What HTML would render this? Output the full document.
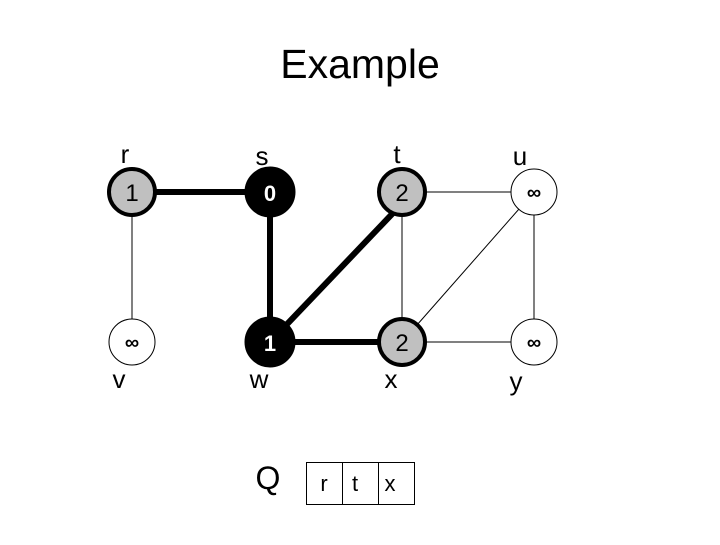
<!DOCTYPE html>
<html><head><meta charset="utf-8"><style>body{margin:0;background:#fff}</style></head><body>
<svg width="720" height="540" xmlns="http://www.w3.org/2000/svg" font-family="Liberation Sans, sans-serif">
<rect width="720" height="540" fill="#fff"/>
<text x="360" y="78" font-size="41" text-anchor="middle">Example</text>
<g stroke="#000">
<line x1="132" y1="192" x2="132" y2="342" stroke-width="1"/>
<line x1="402" y1="192" x2="402" y2="342" stroke-width="1"/>
<line x1="402" y1="192" x2="517" y2="192" stroke-width="1"/>
<line x1="402" y1="342" x2="534" y2="342" stroke-width="1"/>
<line x1="534" y1="192" x2="534" y2="342" stroke-width="1"/>
<line x1="402" y1="342" x2="534" y2="192" stroke-width="1"/>
<line x1="132" y1="192" x2="270" y2="192" stroke-width="6"/>
<line x1="270" y1="192" x2="270" y2="342" stroke-width="6"/>
<line x1="270" y1="342" x2="402" y2="342" stroke-width="6"/>
<line x1="270" y1="342" x2="394" y2="212" stroke-width="6"/>
</g>
<g stroke="#000">
<circle cx="132" cy="192" r="23" fill="#c0c0c0" stroke-width="4"/>
<circle cx="270" cy="192" r="25" fill="#000"/>
<circle cx="402" cy="192" r="23" fill="#c0c0c0" stroke-width="4"/>
<circle cx="534" cy="192" r="23" fill="#fff" stroke-width="1"/>
<circle cx="132" cy="342" r="23" fill="#fff" stroke-width="1"/>
<circle cx="270" cy="342" r="25" fill="#000"/>
<circle cx="402" cy="342" r="23" fill="#c0c0c0" stroke-width="4"/>
<circle cx="534" cy="342" r="23" fill="#fff" stroke-width="1"/>
</g>
<g font-size="24" text-anchor="middle">
<text x="132" y="201">1</text>
<text x="270" y="201" fill="#fff" font-weight="bold" font-size="22">0</text>
<text x="402" y="201">2</text>
<text x="534" y="199" font-size="20" font-weight="bold">∞</text>
<text x="132" y="349" font-size="20" font-weight="bold">∞</text>
<text x="270" y="351" fill="#fff" font-weight="bold" font-size="22">1</text>
<text x="402" y="351">2</text>
<text x="534" y="349" font-size="20" font-weight="bold">∞</text>
</g>
<g font-size="26" text-anchor="middle">
<text x="125" y="163">r</text>
<text x="262" y="165">s</text>
<text x="397" y="163">t</text>
<text x="520" y="165">u</text>
<text x="119" y="388">v</text>
<text x="259" y="388">w</text>
<text x="391" y="388">x</text>
<text x="516" y="390">y</text>
</g>
<text x="268" y="489" font-size="32" text-anchor="middle">Q</text>
<g fill="none" stroke="#000" stroke-width="1">
<rect x="306.5" y="462.5" width="108" height="42"/>
<line x1="342.5" y1="462" x2="342.5" y2="505"/>
<line x1="378.5" y1="462" x2="378.5" y2="505"/>
</g>
<g font-size="22" text-anchor="middle">
<text x="324" y="491">r</text>
<text x="355" y="491">t</text>
<text x="390" y="491">x</text>
</g>
</svg>
</body></html>
